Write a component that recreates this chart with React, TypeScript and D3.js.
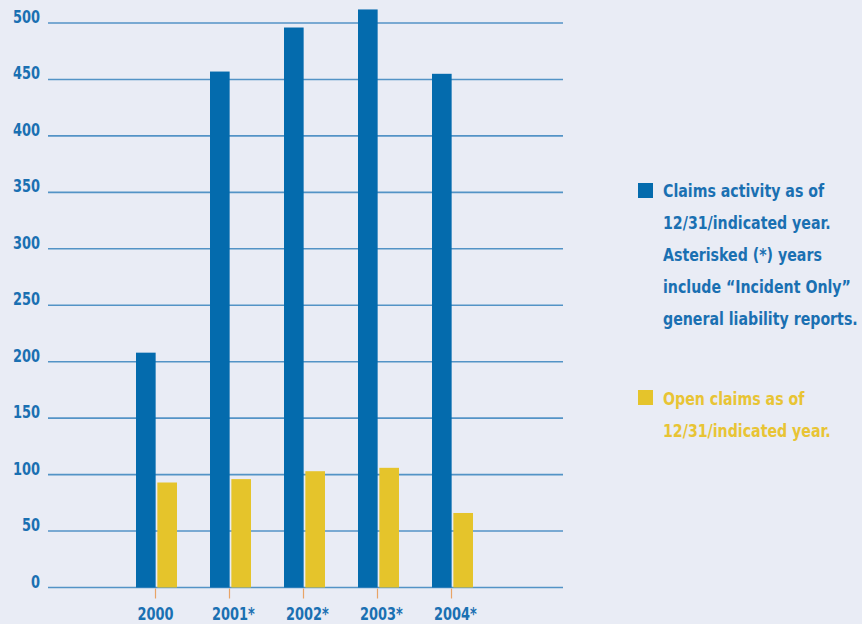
import React from "react";
import * as d3 from "d3";

const years = ["2000", "2001*", "2002*", "2003*", "2004*"];
const claimsActivity = [208, 457, 496, 512, 455];
const openClaims = [93, 96, 103, 106, 66];
const yTicks = [0, 50, 100, 150, 200, 250, 300, 350, 400, 450, 500];
const seriesNames = ["Claims activity", "Open claims"];
const legendClaims = [
  "Claims activity as of",
  "12/31/indicated year.",
  "Asterisked (*) years",
  "include \u201cIncident Only\u201d",
  "general liability reports.",
];
const legendOpen = ["Open claims as of", "12/31/indicated year."];

const W = 862;
const H = 624;
const BLUE = "#046BAD";
const YELLOW = "#E5C42B";
const BG = "#E9ECF5";
const TEXT_BLUE = "#1A70B2";
const TEXT_YELLOW = "#E8C434";
const FONT = "'DejaVu Sans Condensed', 'Liberation Sans Narrow', sans-serif";

function CText(props: {
  x: number;
  y: number;
  sx?: number;
  anchor?: "start" | "middle" | "end";
  fill: string;
  children: React.ReactNode;
}) {
  return (
    <text
      transform={`translate(${props.x},${props.y}) scale(${props.sx ?? 0.8},1)`}
      textAnchor={props.anchor || "start"}
      fontFamily={FONT}
      fontWeight="bold"
      fontSize={18}
      fill={props.fill}
    >
      {props.children}
    </text>
  );
}

export default function App() {
  const plotLeft = 48;
  const plotRight = 563;
  const y = d3.scaleLinear().domain([0, 500]).range([587.5, 23]);
  const x0 = d3.scaleBand().domain(years).range([118.5, 488.5]).paddingInner(0).paddingOuter(0);
  const x1 = d3.scaleBand().domain(seriesNames).range([-19.5, 21.5]).paddingInner(0.08);
  const values = [claimsActivity, openClaims];
  const colors = [BLUE, YELLOW];

  return (
    <div style={{ position: "fixed", left: 0, top: 0, width: W, height: H, background: BG }}>
      <svg width={W} height={H} style={{ display: "block" }}>
        <rect x={0} y={0} width={W} height={H} fill={BG} />
        {yTicks.map((t) => (
          <g key={t}>
            <line x1={plotLeft} x2={plotRight} y1={y(t)} y2={y(t)} stroke="#5393c6" strokeWidth={1.6} />
            <CText x={40} y={y(t)} anchor="end" fill={TEXT_BLUE}>
              {t}
            </CText>
          </g>
        ))}
        {years.map((yr, i) => {
          const c = (x0(yr) as number) + x0.bandwidth() / 2;
          return (
            <g key={yr}>
              {values.map((vals, s) => (
                <rect
                  key={s}
                  x={c + (x1(seriesNames[s]) as number)}
                  y={y(vals[i])}
                  width={x1.bandwidth()}
                  height={y(0) - y(vals[i])}
                  fill={colors[s]}
                />
              ))}
              <line x1={c} x2={c} y1={y(0) + 1} y2={y(0) + 11} stroke="#E8A466" strokeWidth={1.2} />
              <CText x={c + (yr.endsWith("*") ? 4 : 0)} y={620} anchor="middle" fill={TEXT_BLUE}>
                {yr}
              </CText>
            </g>
          );
        })}
        <rect x={638} y={183} width={15} height={15} fill={BLUE} />
        {legendClaims.map((line, i) => (
          <CText key={i} x={663} y={197 + i * 32} sx={0.875} fill={TEXT_BLUE}>
            {line}
          </CText>
        ))}
        <rect x={638} y={390} width={15} height={15} fill={YELLOW} />
        {legendOpen.map((line, i) => (
          <CText key={i} x={663} y={405 + i * 32} sx={0.875} fill={TEXT_YELLOW}>
            {line}
          </CText>
        ))}
      </svg>
    </div>
  );
}
